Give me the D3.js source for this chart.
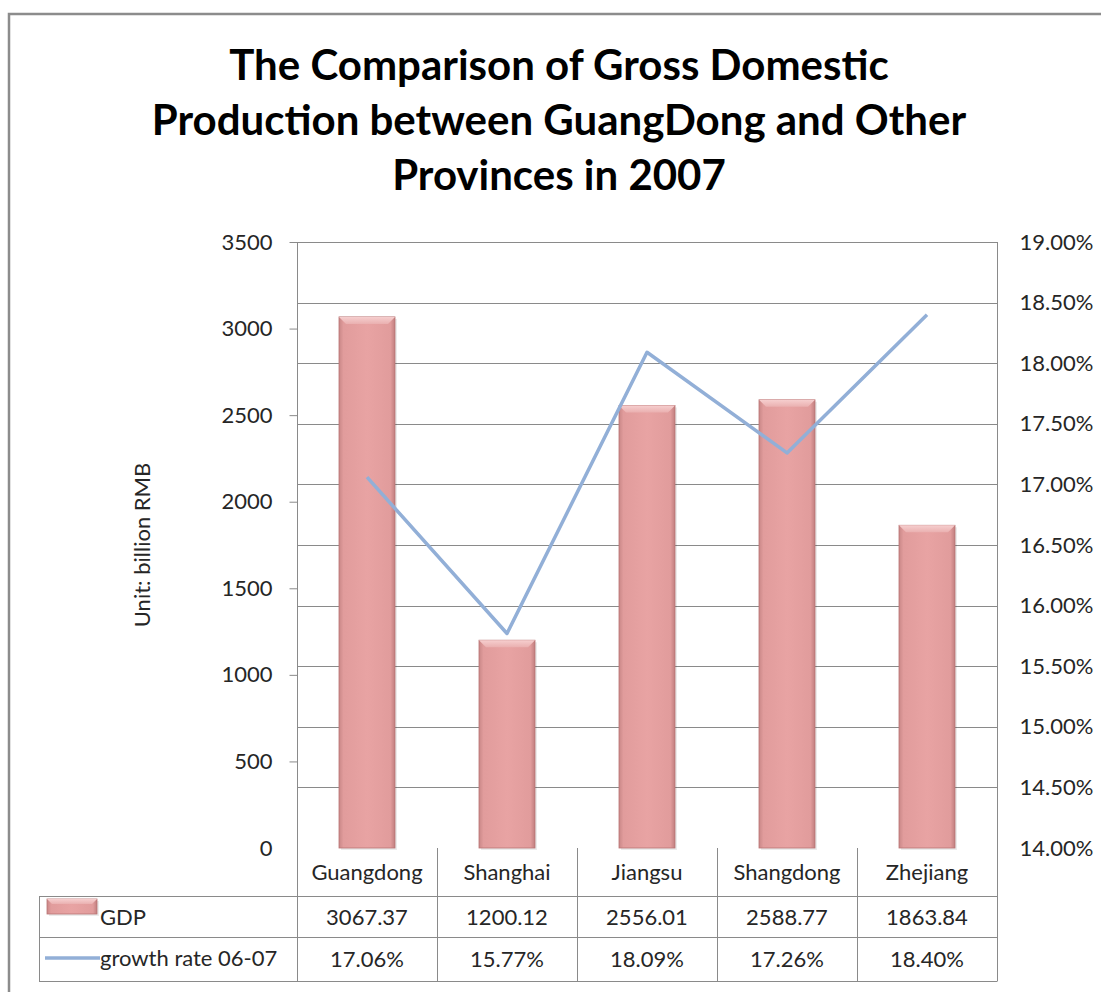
<!DOCTYPE html>
<html>
<head>
<meta charset="utf-8">
<script src="https://cdn.jsdelivr.net/npm/d3@7"></script>
<style>
  html, body { margin: 0; padding: 0; background: #fff; }
  svg { display: block; }
  text { font-family: Lato, "Open Sans", sans-serif; }
</style>
</head>
<body>
<svg id="chart" width="1101" height="992"></svg>
<script>
// GDP of GuangDong and four other provinces, 2007
const provinces = ["Guangdong", "Shanghai", "Jiangsu", "Shangdong", "Zhejiang"];
const gdp = [3067.37, 1200.12, 2556.01, 2588.77, 1863.84];
const growthRate = [0.1706, 0.1577, 0.1809, 0.1726, 0.1840];
const gdpTicks = [0, 500, 1000, 1500, 2000, 2500, 3000, 3500];
const rateTicks = [0.14, 0.145, 0.15, 0.155, 0.16, 0.165, 0.17, 0.175, 0.18, 0.185, 0.19];
const titleLines = [
  "The Comparison of Gross Domestic",
  "Production between GuangDong and Other",
  "Provinces in 2007"
];
const seriesNames = ["GDP", "growth rate 06-07"];

const svg = d3.select("#chart");

// layout
const plot = { left: 297, right: 997, top: 242, bottom: 848 };
const table = { left: 39, headerBottom: 896, rowMid: 937, bottom: 981 };
const axisColor = "#8a8a8a";
const textColor = "#262626";
const lineColor = "#92afd7";

// outer chart frame
svg.append("rect")
  .attr("x", 9).attr("y", 14)
  .attr("width", 1200).attr("height", 1200)
  .attr("fill", "none").attr("stroke", "#8c8c8c").attr("stroke-width", 2.5);

// title
const title = svg.append("text")
  .attr("text-anchor", "middle")
  .attr("font-size", 42).attr("font-weight", 700).attr("fill", "#000");
titleLines.forEach((t, i) => {
  title.append("tspan").attr("x", 559).attr("y", 80 + i * 55).text(t);
});

// scales
const x = d3.scaleBand().domain(provinces).range([plot.left, plot.right]).paddingInner(0).paddingOuter(0);
const yL = d3.scaleLinear().domain([0, 3500]).range([plot.bottom, plot.top]);
const yR = d3.scaleLinear().domain([0.14, 0.19]).range([plot.bottom, plot.top]);
const barW = x.bandwidth() * 0.4;

// gradients for bars
const defs = svg.append("defs");
const g = defs.append("linearGradient").attr("id", "barGrad").attr("x1", 0).attr("x2", 1).attr("y1", 0).attr("y2", 0);
[[0, "#c98787"], [0.08, "#e19c9c"], [0.5, "#e8a3a3"], [0.92, "#e19c9c"], [1, "#c17f7f"]]
  .forEach(([o, c]) => g.append("stop").attr("offset", o).attr("stop-color", c));
const gTop = defs.append("linearGradient").attr("id", "barTop").attr("x1", 0).attr("x2", 0).attr("y1", 0).attr("y2", 1);
[[0, "#f6cfcf"], [1, "#eab0b0"]].forEach(([o, c]) => gTop.append("stop").attr("offset", o).attr("stop-color", c));

// gridlines (right axis)
svg.append("g").selectAll("line")
  .data(rateTicks.filter(v => v > 0.14))
  .join("line")
  .attr("x1", plot.left).attr("x2", plot.right)
  .attr("y1", d => Math.round(yR(d)) + 0.5).attr("y2", d => Math.round(yR(d)) + 0.5)
  .attr("stroke", axisColor).attr("stroke-width", 1);

// left axis
const leftAxis = svg.append("g")
  .attr("transform", `translate(${plot.left + 0.5},0)`)
  .call(d3.axisLeft(yL).tickValues(gdpTicks).tickSize(8).tickPadding(17).tickFormat(d3.format("d")));
leftAxis.select(".domain").remove();
leftAxis.selectAll(".tick line").attr("stroke", axisColor).attr("display", d => d === 0 ? "none" : null);
leftAxis.selectAll(".tick text").attr("font-size", 22).attr("fill", textColor).attr("font-family", "Lato, sans-serif");

// right axis
const rightAxis = svg.append("g")
  .attr("transform", `translate(${plot.right + 0.5},0)`)
  .call(d3.axisRight(yR).tickValues(rateTicks).tickSize(0).tickPadding(22).tickFormat(d3.format(".2%")));
rightAxis.select(".domain").remove();
rightAxis.selectAll(".tick text").attr("font-size", 22).attr("fill", textColor).attr("font-family", "Lato, sans-serif");

// y-axis title
svg.append("text")
  .attr("transform", `translate(150,${(plot.top + plot.bottom) / 2}) rotate(-90)`)
  .attr("text-anchor", "middle")
  .attr("font-size", 22).attr("fill", textColor)
  .text("Unit: billion RMB");

// bars
function drawBar(sel, bx, by, bw, bh) {
  sel.append("rect").attr("x", bx + 2).attr("y", by + 2).attr("width", bw).attr("height", bh)
    .attr("fill", "#000").attr("opacity", 0.08);
  sel.append("rect").attr("x", bx).attr("y", by).attr("width", bw).attr("height", bh)
    .attr("fill", "url(#barGrad)").attr("stroke", "#b97474").attr("stroke-width", 0.8);
  const b = Math.min(7, bh / 3);
  sel.append("path")
    .attr("d", `M${bx},${by}L${bx + bw},${by}L${bx + bw - b},${by + b}L${bx + b},${by + b}Z`)
    .attr("fill", "url(#barTop)");
}
const bars = svg.append("g");
provinces.forEach((p, i) => {
  const bx = x(p) + (x.bandwidth() - barW) / 2;
  const by = yL(gdp[i]);
  drawBar(bars.append("g"), bx, by, barW, yL(0) - by);
});

// growth line
const line = d3.line()
  .x((d, i) => x(provinces[i]) + x.bandwidth() / 2)
  .y(d => yR(d));
svg.append("path")
  .datum(growthRate)
  .attr("d", line)
  .attr("fill", "none")
  .attr("stroke", lineColor).attr("stroke-width", 3.5)
  .attr("stroke-linejoin", "round");

// data table
const tg = svg.append("g").attr("stroke", axisColor).attr("stroke-width", 1);
// axis lines extending through the table
tg.append("line").attr("x1", plot.left + 0.5).attr("x2", plot.left + 0.5).attr("y1", plot.top).attr("y2", table.bottom);
tg.append("line").attr("x1", plot.right + 0.5).attr("x2", plot.right + 0.5).attr("y1", plot.top).attr("y2", table.bottom);
// column separators
provinces.slice(1).forEach(p => {
  tg.append("line").attr("x1", x(p) + 0.5).attr("x2", x(p) + 0.5).attr("y1", plot.bottom).attr("y2", table.bottom);
});
// row lines
[table.headerBottom, table.rowMid, table.bottom].forEach(yy => {
  tg.append("line").attr("x1", table.left).attr("x2", plot.right + 0.5).attr("y1", yy + 0.5).attr("y2", yy + 0.5);
});
tg.append("line").attr("x1", table.left + 0.5).attr("x2", table.left + 0.5).attr("y1", table.headerBottom).attr("y2", table.bottom);

const cellText = svg.append("g").attr("text-anchor", "middle").attr("font-size", 22).attr("fill", textColor);
provinces.forEach((p, i) => {
  const cx = x(p) + x.bandwidth() / 2;
  cellText.append("text").attr("x", cx).attr("y", 880).text(p);
  cellText.append("text").attr("x", cx).attr("y", 925).text(d3.format(".2f")(gdp[i]));
  cellText.append("text").attr("x", cx).attr("y", 967).text(d3.format(".2%")(growthRate[i]));
});

// legend keys in the table
const lg = svg.append("g");
drawBar(lg, 47, 899, 50, 15);
lg.append("text").attr("x", 100).attr("y", 925).attr("font-size", 22).attr("fill", textColor).text(seriesNames[0]);
lg.append("line").attr("x1", 45).attr("x2", 100).attr("y1", 958).attr("y2", 958)
  .attr("stroke", lineColor).attr("stroke-width", 3.5);
lg.append("text").attr("x", 100).attr("y", 966).attr("font-size", 22).attr("fill", textColor).text(seriesNames[1]);
</script>
</body>
</html>
